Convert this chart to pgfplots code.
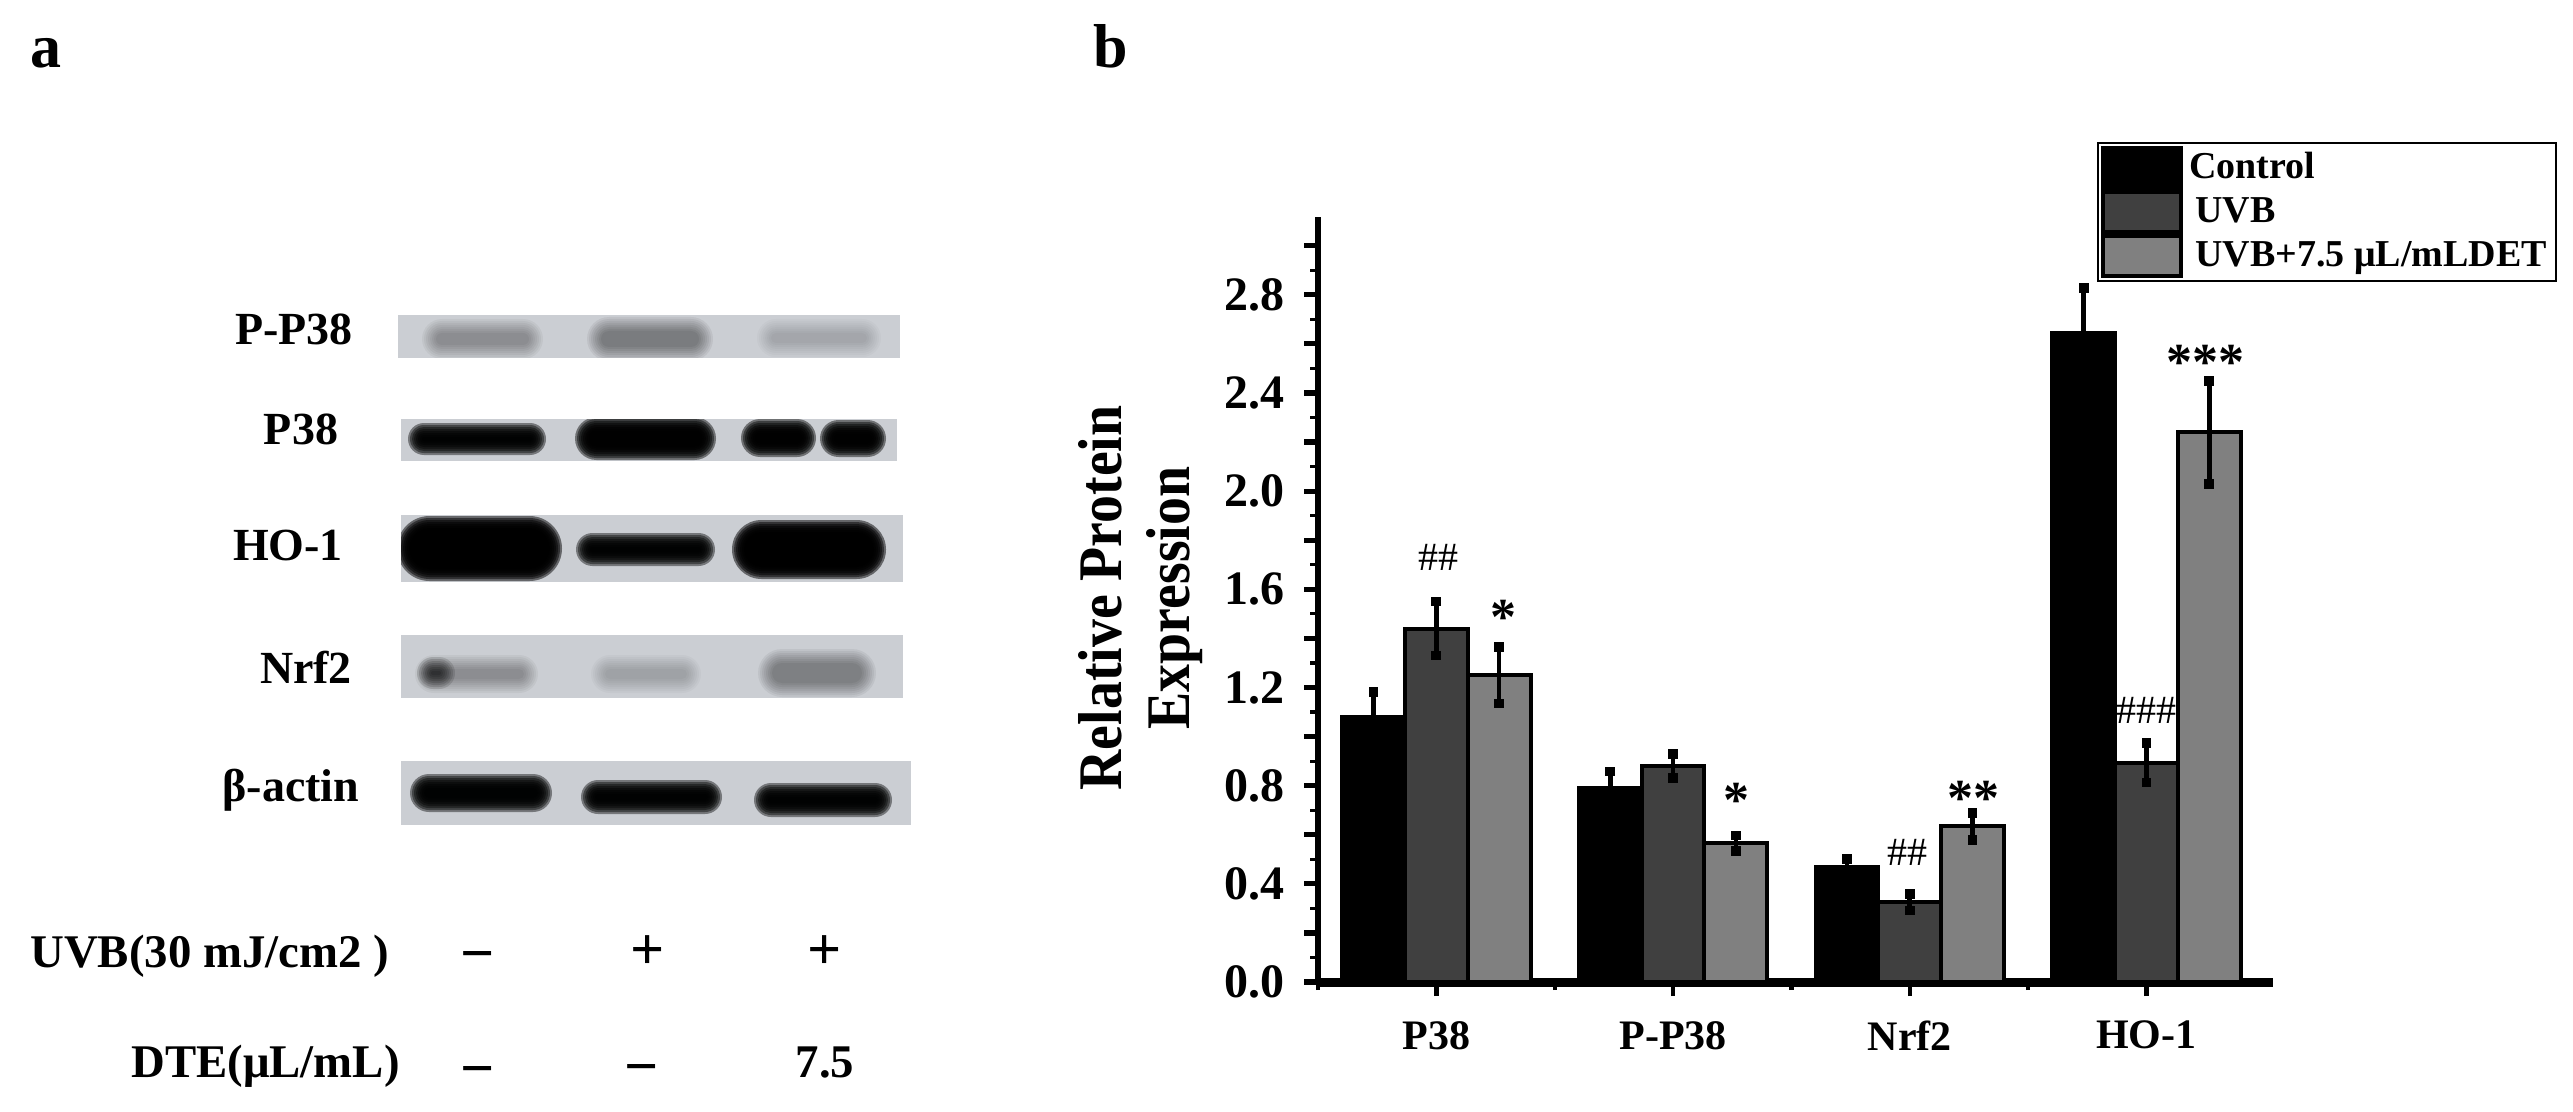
\documentclass[border=0pt]{standalone}
\usepackage{fontspec}
\usepackage{pgfplots}
\usepackage{pgfplotstable}
\pgfplotsset{compat=1.18}
\setmainfont{Liberation Serif}
\newfontfamily\narrowserif[FakeStretch=0.9]{Liberation Serif}
% 1 reference pixel = 0.5pt
\newcommand{\fs}[1]{\fontsize{#1}{#1}\selectfont\bfseries}
\definecolor{blot}{HTML}{CBCED3}
\definecolor{darkbar}{HTML}{404040}
\definecolor{midbar}{HTML}{808080}

\pgfplotstableread{
x y e
1 1.08 0.1
2 0.79 0.068
3 0.47 0.03
4 2.645 0.183
}\control
\pgfplotstableread{
x y e
1 1.44 0.11
2 0.88 0.05
3 0.325 0.034
4 0.893 0.08
}\uvb
\pgfplotstableread{
x y e
1 1.25 0.115
2 0.565 0.032
3 0.635 0.055
4 2.24 0.21
}\uvbdet

% blurred band of the blot: stacked translucent pills
\newcommand{\band}[5]{%
  \foreach \s in {13,11,9,7,5,3,1,-1}{%
    \pgfmathsetmacro{\r}{0.25*(#4-#2+2*\s)}
    \fill[black,opacity=#5,rounded corners=\r pt] (#1-\s,#2-\s) rectangle (#3+\s,#4+\s);
  }%
}
\newcommand{\panel}[4]{\fill[blot] (#1,#2) rectangle (#3,#4);}

\begin{document}
\begin{tikzpicture}
\path[use as bounding box,fill=white] (0,0) rectangle (1286.5pt,-556pt);

% panel a: the blot image and its labels
\begin{scope}[x=0.5pt,y=-0.5pt]
\node[font=\fs{31},anchor=base] at (46,68) {a};
\node[font=\fs{31},anchor=base] at (1111,68) {b};

\begin{scope}
\clip (398,315) rectangle (900,358);
\panel{398}{315}{900}{358}
\band{435}{332}{530}{346}{0.045}
\band{600}{330}{700}{348}{0.06}
\band{770}{332}{868}{344}{0.025}
\end{scope}

\begin{scope}
\clip (401,419) rectangle (897,461);
\panel{401}{419}{897}{461}
\band{421}{436}{533}{442}{0.42}
\band{588}{430}{703}{447}{0.45}
\band{754}{432}{803}{444}{0.45}
\band{833}{433}{873}{444}{0.45}
\end{scope}

\begin{scope}
\clip (401,515) rectangle (903,582);
\panel{401}{515}{903}{582}
\band{410}{529}{549}{568}{0.5}
\band{589}{546}{702}{553}{0.42}
\band{745}{533}{873}{566}{0.5}
\end{scope}

\begin{scope}
\clip (401,635) rectangle (903,698);
\panel{401}{635}{903}{698}
\band{428}{668}{525}{680}{0.045}
\band{430}{670}{442}{676}{0.12}
\band{604}{668}{688}{680}{0.028}
\band{771}{662}{863}{684}{0.055}
\end{scope}

\begin{scope}
\clip (401,761) rectangle (911,825);
\panel{401}{761}{911}{825}
\band{423}{787}{539}{799}{0.42}
\band{594}{793}{709}{801}{0.42}
\band{767}{796}{879}{804}{0.42}
\end{scope}

\node[font=\fs{23},anchor=base] at (294,344) {P-P38};
\node[font=\fs{23},anchor=base] at (301,444) {P38};
\node[font=\fs{23},anchor=base] at (288,560) {HO-1};
\node[font=\fs{23},anchor=base] at (306,683) {Nrf2};
\node[font=\fs{23},anchor=base] at (291,801) {β-actin};

\node[font=\fs{23.4},anchor=base west,inner sep=0pt] at (30,967) {UVB(30 mJ/cm2 )};
\node[font=\fs{23.4},anchor=base west,inner sep=0pt] at (131,1077) {DTE(μL/mL)};
\node[font=\fs{30}] at (478,962) {−};
\node[font=\fs{30}] at (648,953) {+};
\node[font=\fs{30}] at (825,953) {+};
\node[font=\fs{30}] at (478,1077) {−};
\node[font=\fs{30}] at (642,1075) {−};
\node[font=\fs{23.4},anchor=base] at (825,1077) {7.5};
\end{scope}

% panel b
\begin{axis}[
    at={(659pt,-491pt)}, anchor=south west,
    scale only axis,
    width=477.5pt, height=382.5pt,
    clip=false,
    axis lines=left,
    x axis line style={-,line width=4.5pt},
    y axis line style={-,line width=3.2pt},
    xmin=0.5, xmax=4.535,
    ymin=0, ymax=3.117,
    ybar=0pt,
    bar width=31.4pt,
    xtick={1,2,3,4},
    xticklabels={P38,P-P38,Nrf2,HO-1},
    minor xtick={0.5,1.5,2.5,3.5},
    ytick={0,0.2,0.4,0.6,0.8,1,1.2,1.4,1.6,1.8,2,2.2,2.4,2.6,2.8,3},
    yticklabels={0.0,,0.4,,0.8,,1.2,,1.6,,2.0,,2.4,,2.8,},
    minor y tick num=1,
    tick align=outside,
    major tick length=7pt,
    minor tick length=4pt,
    major x tick style={black,line width=2.2pt},
    minor x tick style={black,line width=2.2pt},
    major y tick style={black,line width=2.6pt},
    minor y tick style={black,line width=1.6pt},
    xticklabel style={font=\fs{21},yshift=-9pt},
    yticklabel style={font=\fs{24},xshift=-6pt},
    every axis y label/.style={at={(axis description cs:-0.186,0.502)},rotate=90,anchor=center},
    ylabel={Relative Protein\\[3pt]Expression},
    ylabel style={align=center,font=\narrowserif\fs{31}},
    legend cell align=left,
    legend style={at={(0.8157,1.098)},anchor=north west,draw=black,line width=1.2pt,
        inner sep=1.5pt,font=\fs{19},row sep=0pt,
        nodes={inner xsep=3pt,inner ysep=0pt,text height=15pt,text depth=5pt}},
    area legend,
    legend image code/.code={\draw[#1,line width=2pt] (0pt,-10pt) rectangle (39pt,10pt);},
    legend plot pos=left,
]
\addplot+[ybar,fill=black,draw=black,line width=2pt,
    error bars/.cd,y dir=both,y explicit,
    error bar style={black,line width=2.3pt},
    error mark=square*,error mark options={black,mark size=2.2pt,line width=0pt}]
    table[x=x,y=y,y error=e] {\control};
\addplot+[ybar,fill=darkbar,draw=black,line width=2pt,
    error bars/.cd,y dir=both,y explicit,
    error bar style={black,line width=2.3pt},
    error mark=square*,error mark options={black,mark size=2.2pt,line width=0pt}]
    table[x=x,y=y,y error=e] {\uvb};
\addplot+[ybar,fill=midbar,draw=black,line width=2pt,
    error bars/.cd,y dir=both,y explicit,
    error bar style={black,line width=2.3pt},
    error mark=square*,error mark options={black,mark size=2.2pt,line width=0pt}]
    table[x=x,y=y,y error=e] {\uvbdet};
\legend{Control,\,UVB,\,UVB+7.5 μL/mLDET}

\node[font=\fontsize{20}{20}\selectfont] at (axis cs:1.01,1.728) {\#\#};
\node[font=\fontsize{20}{20}\selectfont] at (axis cs:2.99,0.53) {\#\#};
\node[font=\fontsize{20}{20}\selectfont] at (axis cs:4,1.108) {\#\#\#};
\node[font=\fs{26}] at (axis cs:1.283,1.484) {*};
\node[font=\fs{26}] at (axis cs:2.27,0.742) {*};
\node[font=\fs{26}] at (axis cs:3.27,0.75) {**};
\node[font=\fs{26}] at (axis cs:4.25,2.523) {***};
\end{axis}
\end{tikzpicture}
\end{document}
